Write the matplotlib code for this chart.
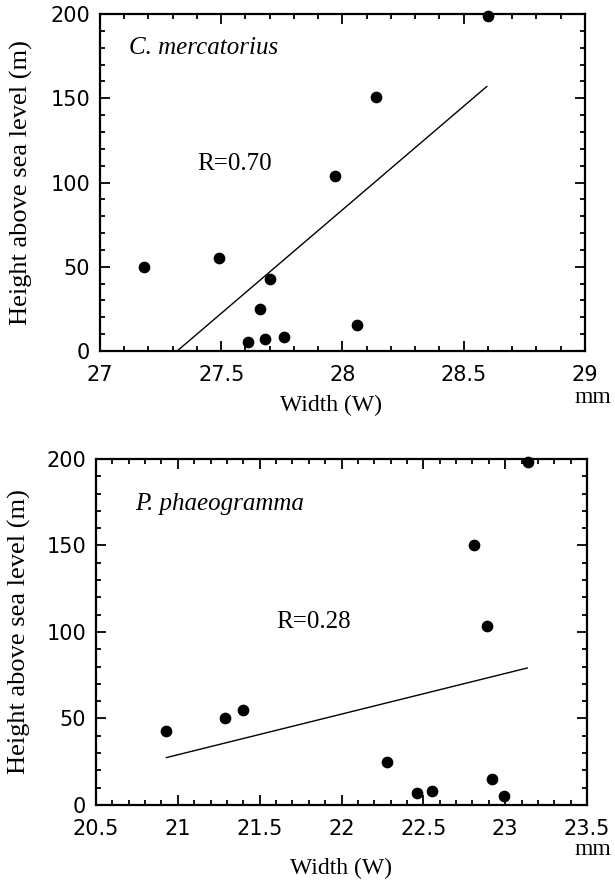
import matplotlib
matplotlib.use("Agg")
import matplotlib.pyplot as plt
from matplotlib.ticker import MultipleLocator

# Datos: C. mercatorius
cm_ancho = [27.18, 27.49, 27.70, 27.66, 27.61, 27.68, 27.76, 27.97, 28.06, 28.14, 28.60]
cm_altura = [50, 55, 43, 25, 5.3, 7.3, 8.1, 104, 15.4, 151, 199]
cm_recta_x = [27.318, 28.595]
cm_recta_y = [0, 157]

# P. phaeogramma
pp_ancho = [20.93, 21.29, 21.40, 22.275, 22.46, 22.55, 22.81, 22.89, 22.92, 22.99, 23.14]
pp_altura = [42.8, 50, 55, 25, 7.1, 8.1, 150, 103.5, 15.3, 5.4, 198]
pp_recta_x = [20.93, 23.135]
pp_recta_y = [27.4, 79.2]

cm_xticks = [27, 27.5, 28, 28.5, 29]
pp_xticks = [20.5, 21, 21.5, 22, 22.5, 23, 23.5]
yticks = [0, 50, 100, 150, 200]

serif = "Liberation Serif"
sans = "DejaVu Sans"

fig = plt.figure(figsize=(6.15, 8.82), dpi=100)
ax1 = fig.add_axes([0.1626, 0.602, 0.7886, 0.3821])
ax2 = fig.add_axes([0.1561, 0.0873, 0.7984, 0.3923])


def preparar(ax, ancho, altura, rx, ry, xticks, especie, pos_esp, r_txt, pos_r,
             pos_xlabel, pos_ylabel, pos_mm):
    ax.plot(rx, ry, color='black', linewidth=1.0)
    ax.scatter(ancho, altura, s=55, color='black', zorder=3, clip_on=False)
    ax.set_xlim(xticks[0], xticks[-1])
    ax.set_ylim(0, 200)
    ax.set_xticks(xticks)
    ax.set_xticklabels([('%g' % t) for t in xticks])
    ax.set_yticks(yticks)
    ax.xaxis.set_minor_locator(MultipleLocator(0.1))
    ax.yaxis.set_minor_locator(MultipleLocator(10))
    ax.tick_params(which='both', direction='in', top=True, right=True, width=1.3)
    ax.tick_params(which='major', length=7)
    ax.tick_params(which='minor', length=3.5)
    ax.tick_params(axis='x', which='major', pad=10)
    ax.tick_params(axis='y', which='major', pad=7)
    for lab in ax.get_xticklabels() + ax.get_yticklabels():
        lab.set_fontfamily(sans)
        lab.set_fontsize(15)
    for s in ax.spines.values():
        s.set_linewidth(1.6)
    ax.set_ylabel('Height above sea level (m)', fontfamily=serif, fontsize=19, va='center')
    ax.yaxis.set_label_coords(*pos_ylabel)
    ax.set_xlabel('Width (W)', fontfamily=serif, fontsize=17, va='center')
    ax.xaxis.set_label_coords(*pos_xlabel)
    ax.text(pos_esp[0], pos_esp[1], especie, fontfamily=serif, fontstyle='italic',
            fontsize=18, va='center')
    ax.text(pos_r[0], pos_r[1], r_txt, fontfamily=serif, fontsize=18, va='center')
    ax.text(pos_mm[0], pos_mm[1], 'mm', transform=ax.transAxes, fontfamily=serif,
            fontsize=17, ha='center', va='center')


preparar(ax1, cm_ancho, cm_altura, cm_recta_x, cm_recta_y, cm_xticks,
         'C. mercatorius', (27.12, 180), 'R=0.70', (27.40, 111),
         (0.476, -0.160), (-0.161, 0.5), (1.016, -0.139))
preparar(ax2, pp_ancho, pp_altura, pp_recta_x, pp_recta_y, pp_xticks,
         'P. phaeogramma', (20.74, 174), 'R=0.28', (21.6, 106),
         (0.499, -0.182), (-0.155, 0.5), (1.012, -0.130))

fig.savefig('out.png', dpi=100)
